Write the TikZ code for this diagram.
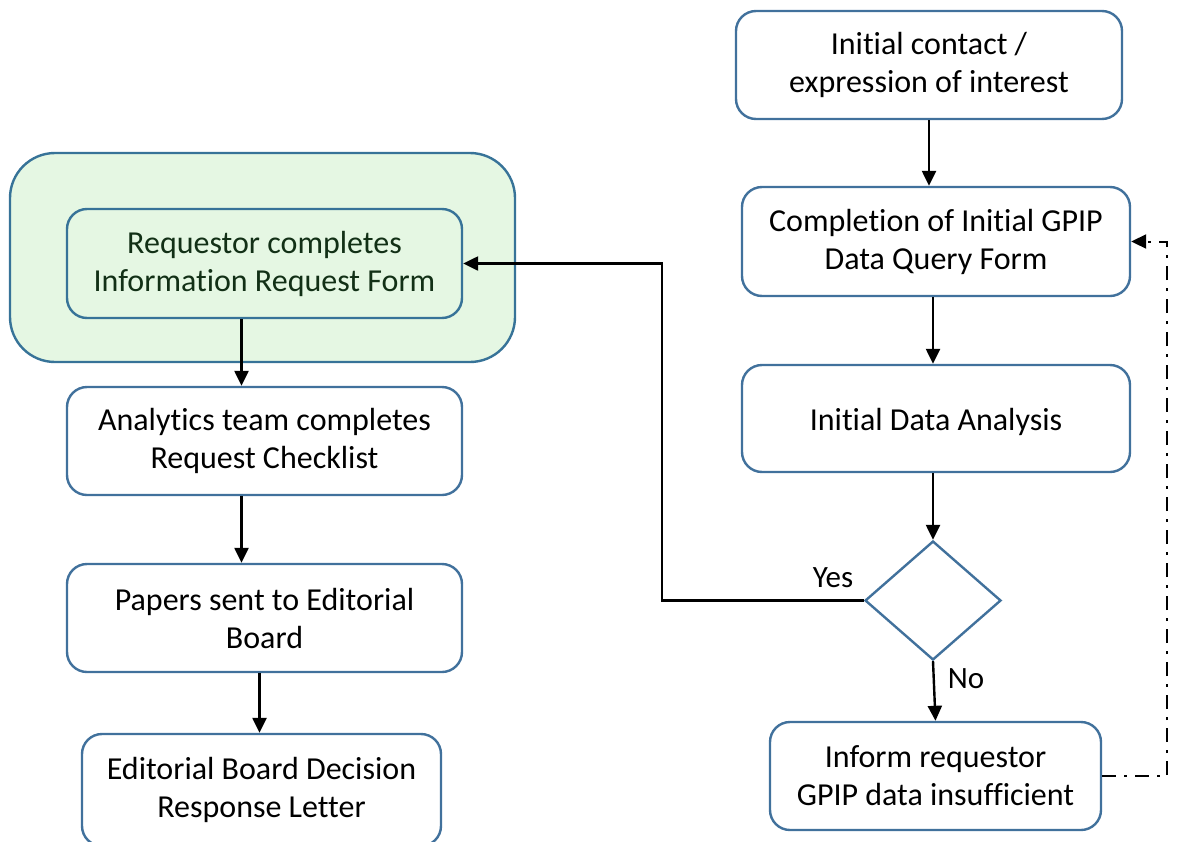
\documentclass[tikz,border=0pt]{standalone}
\usepackage{fontspec}
\setmainfont[Ligatures=NoCommon]{Carlito}
\usetikzlibrary{arrows.meta,shapes.geometric}
\definecolor{boxline}{RGB}{65,113,156}
\definecolor{greenfill}{RGB}{229,247,227}
\definecolor{greentext}{RGB}{18,48,22}
\begin{document}
\begin{tikzpicture}
[x=1pt,y=-1pt,
stepbox/.style={rectangle,rounded corners=20pt,draw=boxline,line width=2.4pt,fill=white,align=center,inner sep=0pt,font=\fontsize{32}{38}\selectfont,execute at begin node={\rule{0pt}{30pt}}},
greenbox/.style={stepbox,fill=greenfill,draw=boxline!85!teal,text=greentext},
flow/.style={-{Triangle[length=15pt,width=14pt]},line width=2.4pt,black},
back/.style={flow,line width=2pt,dash pattern=on 14pt off 8pt on 3pt off 8pt}]
\useasboundingbox (0,0) rectangle (1181,841);

\node[greenbox,rounded corners=45pt,minimum width=505pt,minimum height=209pt] (group) at (262.5,257.5) {};
\node[greenbox,minimum width=395pt,minimum height=109pt] (request) at (264.5,263.5) {Requestor completes\\Information Request Form};
\node[stepbox,minimum width=395pt,minimum height=108pt] (checklist) at (264.5,441) {Analytics team completes\\Request Checklist};
\node[stepbox,minimum width=395pt,minimum height=108pt] (papers) at (264.5,618) {Papers sent to Editorial\\Board};
\node[stepbox,minimum width=359pt,minimum height=112pt] (board) at (261.5,790) {Editorial Board Decision\\Response Letter};

\node[stepbox,minimum width=386pt,minimum height=108pt] (contact) at (929,65) {Initial contact /\\expression of interest};
\node[stepbox,minimum width=388pt,minimum height=109pt] (query) at (936,241.5) {Completion of Initial GPIP\\Data Query Form};
\node[stepbox,minimum width=388pt,minimum height=107pt] (analysis) at (936,418.5) {Initial Data Analysis};
\node[diamond,draw=boxline,line width=2.4pt,fill=white,inner sep=0pt,minimum width=136pt,minimum height=119pt] (decision) at (933,600.5) {};
\node[stepbox,minimum width=331pt,minimum height=108pt] (inform) at (935.5,776) {Inform requestor\\GPIP data insufficient};

\node[font=\fontsize{31}{36}\selectfont] (yes) at (833,578) {Yes};
\node[font=\fontsize{31}{36}\selectfont] (no) at (966,679) {No};

\draw[flow] (contact.south) -- (contact.south |- query.north);
\draw[flow] (query.south -| decision.north) -- (analysis.north -| decision.north);
\draw[flow] (analysis.south -| decision.north) -- (decision.north);
\draw[flow] (decision.south) -- (inform.north);
\draw[flow] (decision.west) -- ++(-202,0) |- (request.east);
\draw[back] (inform.east) -- ++(65,0) |- (query.east);

\draw[flow] ([xshift=-23pt]request.south) -- ([xshift=-23pt]checklist.north);
\draw[flow] ([xshift=-23pt]checklist.south) -- ([xshift=-23pt]papers.north);
\draw[flow] ([xshift=-5pt]papers.south) -- ([xshift=-5pt]papers.south |- board.north);
\end{tikzpicture}
\end{document}
